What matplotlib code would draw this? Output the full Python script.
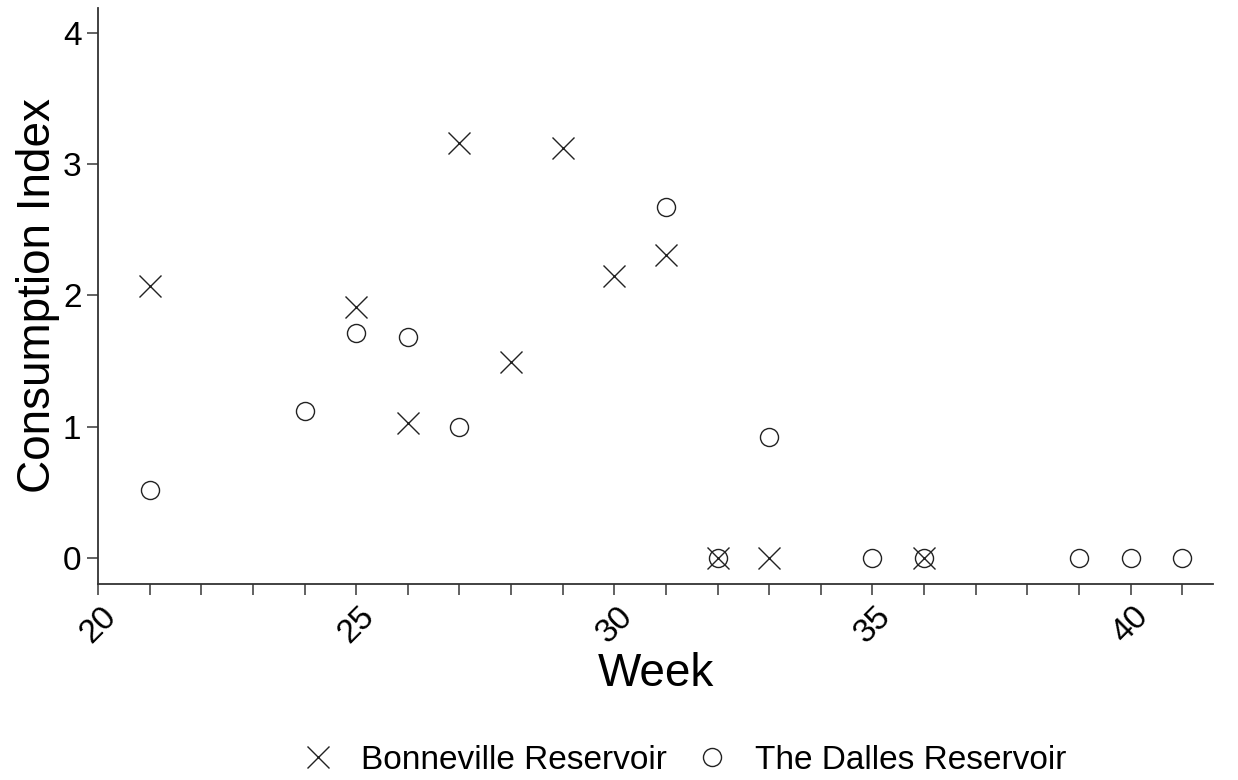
import matplotlib
matplotlib.use("Agg")
import matplotlib.pyplot as plt
from matplotlib.ticker import MultipleLocator

plt.rcParams['font.family'] = ['Liberation Sans', 'DejaVu Sans']

bonn_week = [21, 25, 26, 27, 28, 29, 30, 31, 32, 33, 36]
bonn_ci = [2.07, 1.91, 1.03, 3.16, 1.49, 3.12, 2.15, 2.31, 0, 0, 0]
dalles_week = [21, 24, 25, 26, 27, 31, 32, 33, 35, 36, 39, 40, 41]
dalles_ci = [0.52, 1.12, 1.71, 1.68, 1.0, 2.67, 0, 0.92, 0, 0, 0, 0, 0]
x_ticks = [20, 25, 30, 35, 40]
y_ticks = [0, 1, 2, 3, 4]

fig = plt.figure(figsize=(12.38, 7.8), dpi=100)
ax = fig.add_axes([0.0792, 0.2513, 0.9008, 0.7385])

ax.plot(bonn_week, bonn_ci, linestyle='none', marker='x', markersize=16,
        markeredgewidth=1.0, color='#222222', label='Bonneville Reservoir')
ax.plot(dalles_week, dalles_ci, linestyle='none', marker='o', markersize=13,
        markeredgewidth=1.0, markerfacecolor='none', color='#222222',
        label='The Dalles Reservoir')

ax.set_xlim(20, 41.6)
ax.set_ylim(-0.2, 4.19)
ax.set_xticks(x_ticks)
ax.xaxis.set_minor_locator(MultipleLocator(1))
ax.set_yticks(y_ticks)

for s in ['top', 'right']:
    ax.spines[s].set_visible(False)
for s in ['left', 'bottom']:
    ax.spines[s].set_color('#333333')
    ax.spines[s].set_linewidth(1.3)

ax.tick_params(axis='both', which='both', length=8, width=1.3, color='#555555',
               labelsize=24, labelcolor='black', pad=4)
ax.tick_params(axis='x', which='minor', length=8)
for lab in ax.get_xticklabels():
    lab.set_rotation(45)
    lab.set_ha('center')
    lab.set_va('top')

ax.set_xlabel('Week', fontsize=33, labelpad=2)
ax.set_ylabel('Consumption Index', fontsize=33, labelpad=2)

fig.legend(loc='center', bbox_to_anchor=(0.5525, 0.025), ncol=2, frameon=False,
           fontsize=24, handletextpad=0.8, columnspacing=0.85, handlelength=1.0)

fig.savefig('out.png', dpi=100)
